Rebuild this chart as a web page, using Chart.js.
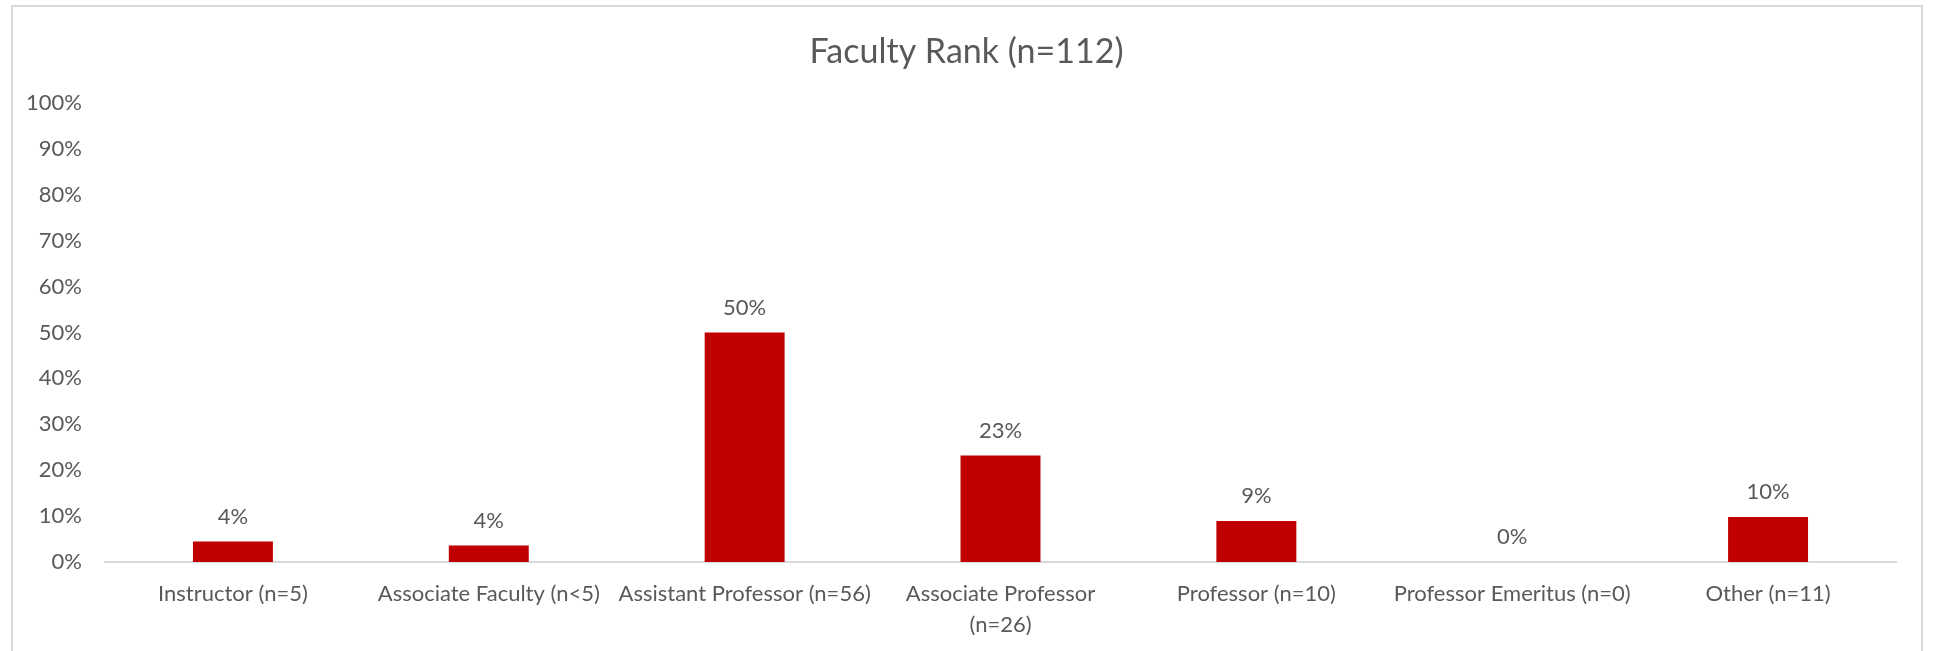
<!DOCTYPE html>
<html>
<head>
<meta charset="utf-8">
<script src="https://cdn.jsdelivr.net/npm/chart.js@4/dist/chart.umd.min.js"></script>
<style>
  body { margin: 0; background: #fff; overflow: hidden; }
  #frame {
    position: absolute; left: 11px; top: 5px; width: 1912px; height: 700px;
    border: 2px solid #d9d9d9; box-sizing: border-box;
  }
  #myChart { position: absolute; left: 0; top: 0; }
</style>
</head>
<body>
<div id="frame"></div>
<canvas id="myChart" width="1933" height="651"></canvas>
<script>
const chartTitle = "Faculty Rank (n=112)";
const categories = [
  "Instructor (n=5)",
  "Associate Faculty (n<5)",
  "Assistant Professor (n=56)",
  ["Associate Professor", "(n=26)"],
  "Professor (n=10)",
  "Professor Emeritus (n=0)",
  "Other (n=11)",
];
const shares = [0.0446, 0.0357, 0.5, 0.232, 0.0893, 0, 0.0982];
const shareLabels = ["4%", "4%", "50%", "23%", "9%", "0%", "10%"];
const yTicks = [0, 0.1, 0.2, 0.3, 0.4, 0.5, 0.6, 0.7, 0.8, 0.9, 1];

const textColor = "#595959";
const fontFamily = "Lato, 'Open Sans', sans-serif";

// percentage text above each bar + title centred on the whole canvas
const barLabels = {
  id: "barLabels",
  afterDatasetsDraw(chart) {
    const ctx = chart.ctx;
    const meta = chart.getDatasetMeta(0);
    ctx.save();
    ctx.fillStyle = textColor;
    ctx.font = "22px " + fontFamily;
    ctx.textAlign = "center";
    ctx.textBaseline = "middle";
    meta.data.forEach((bar, i) => {
      ctx.fillText(shareLabels[i], bar.x, bar.y - 25);
    });
    ctx.font = "34px " + fontFamily;
    ctx.fillText(chartTitle, chart.width / 2, 52);
    ctx.restore();
  },
};

const ctx = document.getElementById("myChart").getContext("2d");
const myChart = new Chart(ctx, {
  type: "bar",
  data: {
    labels: categories,
    datasets: [
      {
        data: shares,
        backgroundColor: "#c00000",
        categoryPercentage: 1,
        barPercentage: 0.3125,
      },
    ],
  },
  options: {
    responsive: false,
    animation: false,
    layout: { padding: { left: 0, right: 37, top: 103, bottom: 0 } },
    plugins: {
      legend: { display: false },
      tooltip: { enabled: false },
      title: { display: false },
    },
    scales: {
      x: {
        grid: { display: false, drawTicks: false },
        border: { display: true, color: "#d9d9d9", width: 2 },
        ticks: {
          color: textColor,
          font: { family: fontFamily, size: 22, lineHeight: 1.41 },
          padding: 16,
          maxRotation: 0,
          autoSkip: false,
        },
        afterFit: (scale) => {
          scale.height = 89;
        },
      },
      y: {
        min: 0,
        max: 1,
        grid: { display: false, drawTicks: false },
        border: { display: false },
        afterBuildTicks: (scale) => {
          scale.ticks = yTicks.map((v) => ({ value: v }));
        },
        ticks: {
          color: textColor,
          font: { family: fontFamily, size: 22 },
          padding: 23,
          callback: (v) => Math.round(v * 100) + "%",
        },
        afterFit: (scale) => {
          scale.width = 105;
        },
      },
    },
  },
  plugins: [barLabels],
});
</script>
</body>
</html>
